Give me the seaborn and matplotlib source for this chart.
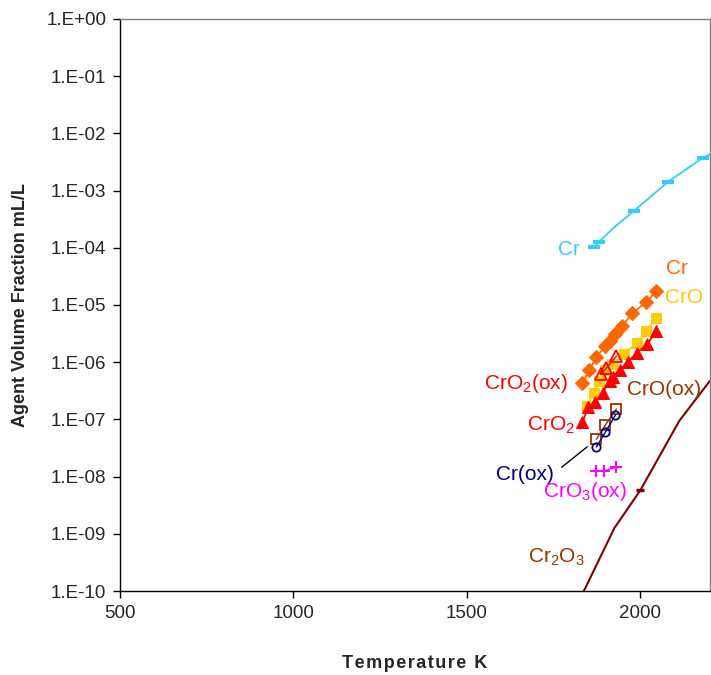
import numpy as np
import matplotlib
matplotlib.use("Agg")
import matplotlib.pyplot as plt
import seaborn as sns
from matplotlib.ticker import FixedLocator, MultipleLocator, FuncFormatter, NullLocator

# Cr (calculated line + markers)
cr_line_T = [1866, 1880, 1925, 1981, 2079, 2180, 2200]
cr_line_y = [1.02e-4, 1.26e-4, 2.3e-4, 4.4e-4, 1.41e-3, 3.76e-3, 4.3e-3]
cr_mark_T = [1866, 1880, 1981, 2079, 2180]
cr_mark_y = [1.02e-4, 1.26e-4, 4.4e-4, 1.41e-3, 3.76e-3]

# Cr (orange diamonds)
cr2_T = [1833, 1853, 1873, 1899, 1911, 1928, 1948, 1977, 2017, 2046]
cr2_y = [4.3e-7, 7.3e-7, 1.23e-6, 1.92e-6, 2.35e-6, 3.1e-6, 4.3e-6, 7.2e-6, 1.13e-5, 1.76e-5]

# CrO (yellow squares)
cro_T = [1847, 1865, 1882, 1899, 1919, 1954, 1989, 2017, 2046]
cro_y = [1.71e-7, 2.9e-7, 4.7e-7, 7.3e-7, 9.3e-7, 1.39e-6, 2.17e-6, 3.5e-6, 5.9e-6]

# CrO2 (red filled triangles)
cro2_T = [1833, 1850, 1870, 1891, 1911, 1920, 1940, 1963, 1989, 2020, 2046]
cro2_y = [9.0e-8, 1.65e-7, 2.0e-7, 2.9e-7, 4.7e-7, 5.5e-7, 7.3e-7, 1.0e-6, 1.45e-6, 2.08e-6, 3.5e-6]

# CrO2(ox) (red open triangles)
cro2ox_T = [1885, 1902, 1931]
cro2ox_y = [6.2e-7, 7.9e-7, 1.28e-6]

# CrO(ox) (brown open squares)
croox_T = [1873, 1899, 1931]
croox_y = [4.5e-8, 8.0e-8, 1.52e-7]

# Cr(ox) (navy open circles)
crox_T = [1873, 1899, 1928]
crox_y = [3.3e-8, 6.0e-8, 1.19e-7]

# CrO3(ox) (magenta plus)
cro3ox_T = [1873, 1894, 1931]
cro3ox_y = [1.25e-8, 1.25e-8, 1.47e-8]

# Cr2O3 (dark red line)
cr2o3_T = [1810, 1925, 2000, 2112, 2200]
cr2o3_y = [4.6e-11, 1.26e-9, 5.8e-9, 9.4e-8, 4.7e-7]
cr2o3_mark_T = [2000]
cr2o3_mark_y = [5.8e-9]

sns.set_style("white")
plt.rcParams['font.family'] = ['Liberation Sans', 'DejaVu Sans']
plt.rcParams['mathtext.fontset'] = 'custom'
plt.rcParams['mathtext.rm'] = 'Liberation Sans'

fig = plt.figure(figsize=(7.11, 6.75), dpi=100)
ax = fig.add_axes([0.1688, 0.1244, 0.8295, 0.8475])

sky = '#33CCFF'
orange = '#FF6600'
yellow = '#FFCC00'
red = '#FF0000'
brown = '#993300'
navy = '#000080'
magenta = '#FF00FF'
darkred = '#800000'

sns.lineplot(x=cr_line_T, y=cr_line_y, color=sky, lw=1.3, ax=ax)
sns.lineplot(x=cr_mark_T, y=cr_mark_y, color=sky, lw=0, marker='_', markersize=9,
             markeredgewidth=3, markeredgecolor=sky, ax=ax)

sns.lineplot(x=cr2_T, y=cr2_y, color=orange, lw=1.3, marker='D', markersize=7,
             markeredgecolor=orange, ax=ax)
sns.lineplot(x=cro_T, y=cro_y, color=yellow, lw=1.3, marker='s', markersize=7,
             markeredgecolor=yellow, ax=ax)
sns.lineplot(x=cro2_T, y=cro2_y, color=red, lw=1.3, marker='^', markersize=8.5,
             markeredgecolor=red, ax=ax)
sns.lineplot(x=cro2ox_T, y=cro2ox_y, color=red, lw=1.0, marker='^', markersize=8.5,
             markerfacecolor='none', markeredgecolor=red, markeredgewidth=1.3, ax=ax)
sns.lineplot(x=croox_T, y=croox_y, color=brown, lw=1.0, marker='s', markersize=7,
             markerfacecolor='none', markeredgecolor=brown, markeredgewidth=1.3, ax=ax)
sns.lineplot(x=crox_T, y=crox_y, color=navy, lw=1.0, marker='o', markersize=6,
             markerfacecolor='none', markeredgecolor=navy, markeredgewidth=1.3, ax=ax)
sns.lineplot(x=cro3ox_T, y=cro3ox_y, color=magenta, lw=1.0, marker='+', markersize=9,
             markeredgecolor=magenta, markeredgewidth=1.5, ax=ax)
sns.lineplot(x=cr2o3_T, y=cr2o3_y, color=darkred, lw=1.5, ax=ax)
sns.lineplot(x=cr2o3_mark_T, y=cr2o3_mark_y, color=darkred, lw=0, marker='_', markersize=6,
             markeredgewidth=2.5, markeredgecolor=darkred, ax=ax)

ax.set_yscale('log')
ax.set_xlim(500, 2200)
ax.set_ylim(1e-10, 1)
ax.yaxis.set_major_locator(FixedLocator([10.0 ** k for k in range(-10, 1)]))
ax.yaxis.set_minor_locator(NullLocator())
ax.yaxis.set_major_formatter(FuncFormatter(lambda v, _: '1.E%+03d' % int(round(np.log10(v)))))
ax.xaxis.set_major_locator(MultipleLocator(500))
ax.xaxis.set_minor_locator(MultipleLocator(100))

ax.tick_params(axis='both', which='major', direction='out', length=5, width=1, labelsize=13.5,
               color='black', pad=5)
ax.tick_params(axis='x', which='minor', direction='out', length=4, width=1, color='black')
ax.tick_params(axis='x', which='major', pad=5)
ax.tick_params(left=True, bottom=True)

for s in ['left', 'bottom']:
    ax.spines[s].set_color('black')
    ax.spines[s].set_linewidth(1)
for s in ['top', 'right']:
    ax.spines[s].set_color('#808080')
    ax.spines[s].set_linewidth(1)

hs = '\u200a'
ax.set_xlabel(hs.join('Temperature K'), fontsize=13, fontweight='bold', labelpad=24)
ax.set_ylabel('Agent Volume Fraction mL/L', fontsize=13, fontweight='bold', labelpad=12)

# series labels
fs = 15
ax.text(1793, 9.5e-5, 'Cr', color=sky, fontsize=fs, ha='center', va='center')
ax.text(2104, 4.26e-5, 'Cr', color=orange, fontsize=fs, ha='center', va='center')
ax.text(2127, 1.33e-5, 'CrO', color=yellow, fontsize=fs, ha='center', va='center')
ax.text(1669, 4.33e-7, r'$\mathregular{CrO_2}$(ox)', color=red, fontsize=fs, ha='center', va='center')
ax.text(1741, 8.0e-8, r'$\mathregular{CrO_2}$', color=red, fontsize=fs, ha='center', va='center')
ax.text(2069, 3.27e-7, 'CrO(ox)', color=brown, fontsize=fs, ha='center', va='center')
ax.text(1666, 1.11e-8, 'Cr(ox)', color=navy, fontsize=fs, ha='center', va='center')
ax.text(1839, 5.4e-9, r'$\mathregular{CrO_3}$(ox)', color=magenta, fontsize=fs, ha='center', va='center')
ax.text(1758, 3.9e-10, r'$\mathregular{Cr_2O_3}$', color=brown, fontsize=fs, ha='center', va='center')
ax.annotate('', xy=(1853, 3.57e-8), xytext=(1767, 1.36e-8),
            arrowprops=dict(arrowstyle='-', color='black', lw=1))

fig.savefig('out.png', dpi=100)
